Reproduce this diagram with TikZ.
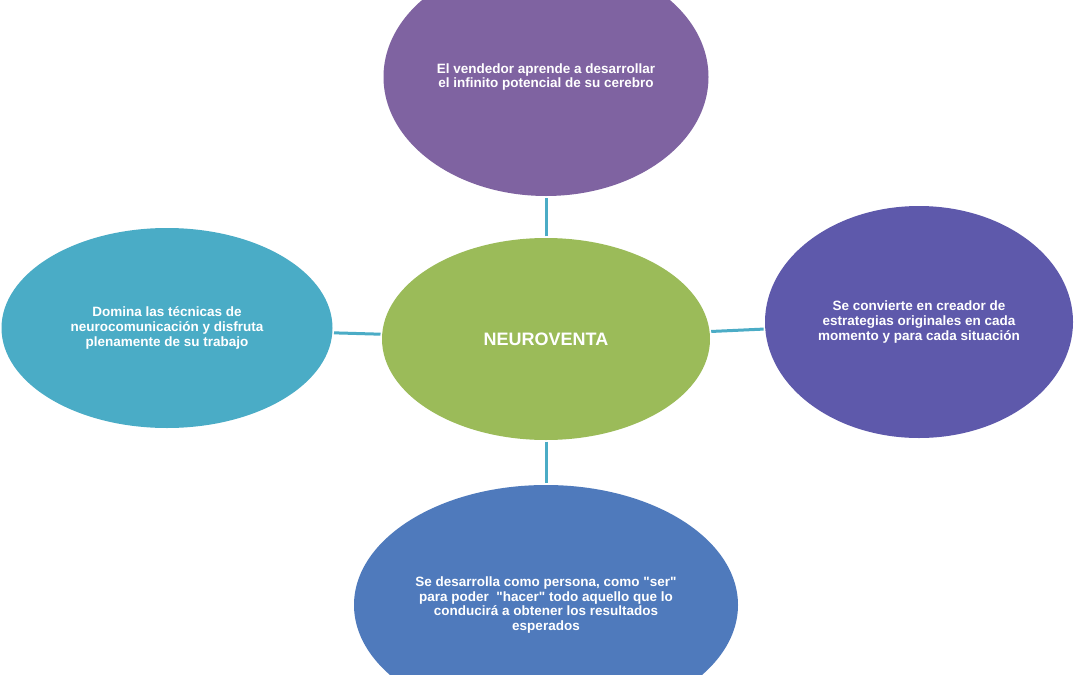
\documentclass[tikz,border=0pt]{standalone}
\usepackage{fontspec}
\setmainfont{Liberation Sans}[Ligatures=TeXOff]
\usetikzlibrary{shapes.geometric}
\definecolor{cTop}{HTML}{7F63A1}
\definecolor{cMid}{HTML}{9BBB59}
\definecolor{cRight}{HTML}{5E59AB}
\definecolor{cLeft}{HTML}{4AACC6}
\definecolor{cBot}{HTML}{4F7ABC}
\definecolor{cLink}{HTML}{4BACC6}
\tikzset{
  bubble/.style={ellipse, inner sep=0pt, text=white, align=center,
    font=\fontsize{13.5}{14.6}\selectfont\bfseries},
  link/.style={draw=cLink, line width=3pt, shorten <=1.5pt, shorten >=1.5pt}
}
\begin{document}
\begin{tikzpicture}[x=1pt,y=-1pt]
\useasboundingbox (0,0) rectangle (1080,675);
\clip (0,0) rectangle (1080,675);
\fill[white] (0,0) rectangle (1080,675);
\node[bubble, fill=cMid, minimum width=328pt, minimum height=202pt,
  font=\fontsize{18}{20}\selectfont\bfseries] (c) at (546,339) {NEUROVENTA};
\node[bubble, fill=cTop, minimum width=325pt, minimum height=238pt] (t) at (546,77)
  {El vendedor aprende a desarrollar\\el infinito potencial de su cerebro};
\node[bubble, fill=cRight, minimum width=308pt, minimum height=232pt] (r) at (919,322)
  {Se convierte en creador de\\estrategias originales en cada\\momento y para cada situación};
\node[bubble, fill=cLeft, minimum width=331pt, minimum height=200pt] (l) at (167,328)
  {Domina las técnicas de\\neurocomunicación y disfruta\\plenamente de su trabajo};
\node[bubble, fill=cBot, minimum width=384pt, minimum height=240pt] (b) at (546,605)
  {Se desarrolla como persona, como "ser"\\para poder\ \ "hacer" todo aquello que lo\\conducirá a obtener los resultados\\esperados};
\draw[link] (c) -- (t);
\draw[link] (c) -- (r);
\draw[link] (c) -- (l);
\draw[link] (c) -- (b);
\end{tikzpicture}
\end{document}
